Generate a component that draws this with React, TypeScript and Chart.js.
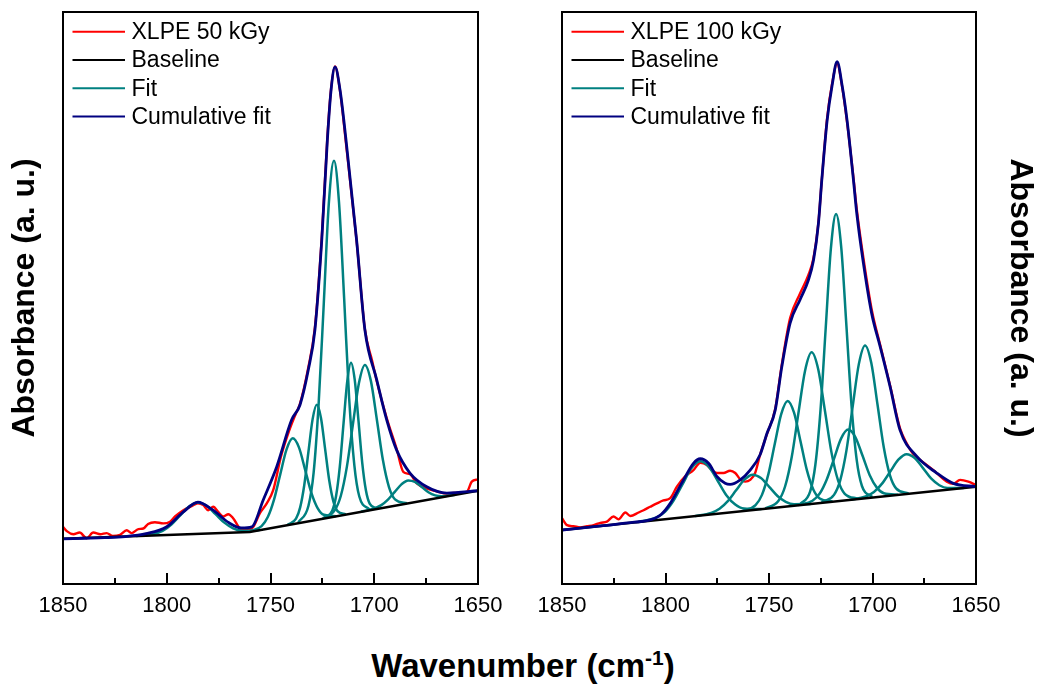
import React, { useEffect, useRef } from 'react';
import { Chart, registerables } from 'chart.js';
Chart.register(...registerables);

const FONT = "'Liberation Sans', Arial, Helvetica, sans-serif";
const X_MIN = 1650;
const X_MAX = 1850;
const X_MAJOR = [1850, 1800, 1750, 1700, 1650];
const X_MINOR = [1825, 1775, 1725, 1675];
const Y_TITLE = 'Absorbance (a. u.)';
const LEGEND_LEFT = ['XLPE 50 kGy', 'Baseline', 'Fit', 'Cumulative fit'];
const LEGEND_RIGHT = ['XLPE 100 kGy', 'Baseline', 'Fit', 'Cumulative fit'];

// ---------- Left panel: XLPE 50 kGy ----------
const L_DATA = [[1850,0.100],[1848,0.092],[1845,0.087],[1842,0.090],[1838.6,0.080],[1835.4,0.090],[1832,0.087],[1829,0.089],[1826,0.084],[1822.5,0.086],[1819.3,0.094],[1817,0.089],[1813.7,0.096],[1811.3,0.097],[1809,0.105],[1805.7,0.108],[1801.7,0.106],[1798.4,0.109],[1796,0.118],[1792,0.129],[1788,0.136],[1785,0.141],[1782.4,0.138],[1780,0.129],[1777.6,0.135],[1775.2,0.126],[1772.7,0.118],[1770.3,0.122],[1768,0.115],[1764.7,0.097],[1761.5,0.094],[1758.3,0.100],[1755.1,0.124],[1751.8,0.141],[1748.7,0.164],[1745,0.222],[1741,0.268],[1738,0.296],[1735.8,0.315],[1731.8,0.378],[1728.6,0.448],[1725.3,0.605],[1722.6,0.780],[1720.8,0.866],[1718.9,0.905],[1716.5,0.862],[1713.6,0.770],[1708.5,0.600],[1704.5,0.445],[1701,0.390],[1698.8,0.355],[1694,0.290],[1689.2,0.236],[1686,0.196],[1682.8,0.192],[1679.5,0.176],[1674.7,0.167],[1670,0.162],[1665,0.158],[1661.9,0.159],[1658,0.160],[1655.4,0.161],[1653,0.179],[1650,0.183]];
const L_BASE = [[1850,0.079],[1760,0.091],[1650,0.163]];
const L_CUM = [[1850,0.079],[1840,0.080],[1830,0.081],[1820,0.083],[1810,0.088],[1800,0.100],[1792,0.126],[1785,0.143],[1778,0.130],[1770,0.107],[1764,0.098],[1759,0.100],[1753.5,0.147],[1747,0.205],[1739.8,0.287],[1735.8,0.313],[1731.8,0.374],[1728.6,0.444],[1725.3,0.601],[1722.6,0.776],[1720.8,0.864],[1718.9,0.904],[1716.5,0.864],[1713.6,0.776],[1708.5,0.601],[1704.5,0.444],[1698.8,0.357],[1694,0.287],[1689.2,0.234],[1682.8,0.194],[1674.7,0.170],[1665,0.159],[1650,0.163]];
const L_FIT_1 = [[1814.75,0.0838],[1806.25,0.0873],[1802,0.0928],[1797.75,0.1039],[1793.5,0.1199],[1789.25,0.1356],[1785,0.1427],[1780.75,0.1367],[1776.5,0.1222],[1772.25,0.1073],[1768,0.0973],[1763.75,0.0929],[1755.25,0.0942]];
const L_FIT_2 = [[1760.3,0.0913],[1754.3,0.1013],[1751.3,0.1170],[1748.3,0.1475],[1745.3,0.1917],[1742.3,0.2349],[1739.3,0.2546],[1736.3,0.2388],[1733.3,0.1996],[1730.3,0.1593],[1727.3,0.1327],[1724.3,0.1210],[1718.3,0.1186]];
const L_FIT_3 = [[1741.7,0.1034],[1737.7,0.1144],[1735.7,0.1340],[1733.7,0.1736],[1731.7,0.2316],[1729.7,0.2882],[1727.7,0.3132],[1725.7,0.2908],[1723.7,0.2368],[1721.7,0.1814],[1719.7,0.1445],[1717.7,0.1275],[1713.7,0.1217]];
const L_FIT_4 = [[1736.6,0.1077],[1731.7,0.1369],[1729.2,0.1952],[1726.8,0.3150],[1724.3,0.4922],[1721.9,0.6650],[1719.4,0.7400],[1717.0,0.6682],[1714.5,0.4986],[1712.1,0.3247],[1709.6,0.2080],[1707.2,0.1530],[1702.3,0.1302]];
const L_FIT_5 = [[1723.8,0.1153],[1720.2,0.1287],[1718.4,0.1538],[1716.6,0.2052],[1714.8,0.2808],[1713.0,0.3546],[1711.2,0.3870],[1709.4,0.3569],[1707.6,0.2855],[1705.8,0.2123],[1704.0,0.1633],[1702.2,0.1405],[1698.6,0.1318]];
const L_FIT_6 = [[1724.8,0.1147],[1719.0,0.1291],[1716.1,0.1543],[1713.2,0.2048],[1710.3,0.2787],[1707.4,0.3509],[1704.5,0.3830],[1701.6,0.3547],[1698.7,0.2863],[1695.8,0.2162],[1692.9,0.1695],[1690.0,0.1481],[1684.2,0.1412]];
const L_FIT_7 = [[1706.4,0.1262],[1699.9,0.1322],[1696.6,0.1379],[1693.4,0.1476],[1690.1,0.1611],[1686.9,0.1742],[1683.6,0.1810],[1680.4,0.1784],[1677.1,0.1696],[1673.9,0.1604],[1670.6,0.1550],[1667.4,0.1535],[1660.9,0.1560]];
const L_FITS = [L_FIT_1, L_FIT_2, L_FIT_3, L_FIT_4, L_FIT_5, L_FIT_6, L_FIT_7];

// ---------- Right panel: XLPE 100 kGy ----------
const R_DATA = [[1850,0.115],[1847.6,0.103],[1844.4,0.101],[1841.2,0.099],[1837.9,0.101],[1834.7,0.103],[1831.5,0.107],[1828.3,0.109],[1825.1,0.118],[1822.7,0.113],[1819.4,0.125],[1817,0.119],[1813,0.125],[1810.6,0.129],[1807.4,0.135],[1804.1,0.141],[1801,0.146],[1797.7,0.150],[1794.5,0.170],[1790.5,0.188],[1786.5,0.199],[1783.2,0.212],[1780,0.208],[1777.6,0.199],[1775.2,0.194],[1772,0.194],[1768.8,0.198],[1766.3,0.194],[1763.9,0.183],[1761.5,0.179],[1759.1,0.182],[1756.7,0.194],[1754.3,0.226],[1751,0.262],[1747,0.306],[1743.8,0.384],[1739.8,0.465],[1735,0.508],[1731,0.540],[1728.5,0.570],[1726.1,0.633],[1724.5,0.706],[1721.9,0.815],[1719.5,0.875],[1717.1,0.910],[1714.7,0.870],[1712.3,0.808],[1709.2,0.710],[1707.6,0.655],[1704.4,0.570],[1700.4,0.480],[1696.3,0.418],[1691.5,0.347],[1686.7,0.272],[1683.5,0.246],[1680.5,0.228],[1677,0.217],[1670.6,0.199],[1664.1,0.179],[1661,0.175],[1657.7,0.182],[1653.7,0.179],[1650,0.173]];
const R_BASE = [[1850,0.0944],[1650,0.170]];
const R_CUM = [[1850,0.0944],[1830,0.102],[1815,0.108],[1807.4,0.112],[1802,0.122],[1797.7,0.141],[1791.3,0.182],[1786.5,0.211],[1783.2,0.219],[1779.2,0.211],[1775.2,0.188],[1771.2,0.176],[1768.8,0.174],[1763.9,0.182],[1759.1,0.199],[1754.3,0.226],[1751,0.263],[1747,0.304],[1743.8,0.380],[1739.8,0.456],[1735,0.497],[1731,0.531],[1728.5,0.566],[1726.1,0.631],[1724.5,0.706],[1721.9,0.811],[1719.5,0.872],[1717.1,0.913],[1714.7,0.872],[1712.3,0.811],[1709.2,0.706],[1707.6,0.648],[1704.4,0.561],[1700.4,0.473],[1696.3,0.415],[1691.5,0.345],[1686.7,0.269],[1678.6,0.223],[1669,0.194],[1661,0.176],[1650,0.170]];
const R_FIT_1 = [[1813.1,0.1085],[1804.6,0.1158],[1800.3,0.1260],[1796.1,0.1457],[1791.8,0.1741],[1787.6,0.2018],[1783.3,0.2146],[1779.1,0.2050],[1774.8,0.1805],[1770.6,0.1553],[1766.3,0.1388],[1762.1,0.1318],[1753.6,0.1310]];
const R_FIT_2 = [[1785.9,0.1187],[1777.9,0.1244],[1773.9,0.1316],[1769.9,0.1449],[1765.9,0.1638],[1761.9,0.1824],[1757.9,0.1912],[1753.9,0.1854],[1749.9,0.1698],[1745.9,0.1539],[1741.9,0.1437],[1737.9,0.1395],[1729.9,0.1399]];
const R_FIT_3 = [[1762.7,0.1278],[1756.5,0.1378],[1753.4,0.1558],[1750.3,0.1920],[1747.2,0.2452],[1744.1,0.2970],[1741.0,0.3200],[1737.9,0.2994],[1734.8,0.2498],[1731.7,0.1990],[1728.6,0.1652],[1725.5,0.1496],[1719.3,0.1442]];
const R_FIT_4 = [[1751.8,0.1321],[1745.4,0.1456],[1742.2,0.1709],[1739.0,0.2225],[1735.8,0.2985],[1732.6,0.3725],[1729.4,0.4050],[1726.2,0.3749],[1723.0,0.3033],[1719.8,0.2297],[1716.6,0.1806],[1713.4,0.1577],[1707.0,0.1491]];
const R_FIT_5 = [[1735.1,0.1389],[1730.1,0.1618],[1727.6,0.2085],[1725.1,0.3049],[1722.6,0.4476],[1720.1,0.5867],[1717.6,0.6470],[1715.1,0.5886],[1712.6,0.4513],[1710.1,0.3106],[1707.6,0.2160],[1705.1,0.1713],[1700.1,0.1522]];
const R_FIT_6 = [[1735.9,0.1378],[1729.0,0.1455],[1725.5,0.1581],[1722.1,0.1828],[1718.6,0.2189],[1715.2,0.2542],[1711.7,0.2700],[1708.3,0.2568],[1704.8,0.2241],[1701.4,0.1907],[1697.9,0.1685],[1694.5,0.1586],[1687.6,0.1561]];
const R_FIT_7 = [[1724.6,0.1424],[1718.6,0.1559],[1715.6,0.1813],[1712.6,0.2332],[1709.6,0.3097],[1706.6,0.3844],[1703.6,0.4170],[1700.6,0.3867],[1697.6,0.3142],[1694.6,0.2400],[1691.6,0.1904],[1688.6,0.1672],[1682.6,0.1583]];
const R_FIT_8 = [[1711.2,0.1471],[1703.3,0.1530],[1699.3,0.1608],[1695.4,0.1755],[1691.4,0.1967],[1687.5,0.2173],[1683.5,0.2270],[1679.6,0.2203],[1675.6,0.2026],[1671.7,0.1845],[1667.7,0.1727],[1663.8,0.1679],[1655.9,0.1680]];
const R_FITS = [R_FIT_1, R_FIT_2, R_FIT_3, R_FIT_4, R_FIT_5, R_FIT_6, R_FIT_7, R_FIT_8];

const RED = '#FF0000';
const BLACK = '#000000';
const TEAL = '#008080';
const NAVY = '#000080';

const toPts = (arr: number[][]) => arr.map(([x, y]) => ({ x, y }));

function makeFramePlugin(labels: string[]) {
  const colors = [RED, BLACK, TEAL, NAVY];
  return {
    id: 'frameLegend',
    afterDraw(chart: any) {
      const { ctx, chartArea: a, scales } = chart;
      const xs = scales.x;
      ctx.save();
      ctx.strokeStyle = '#000';
      ctx.lineWidth = 2;
      ctx.strokeRect(a.left, a.top, a.right - a.left, a.bottom - a.top);
      const tick = (v: number, len: number) => {
        const px = Math.round(xs.getPixelForValue(v));
        ctx.beginPath();
        ctx.moveTo(px, a.bottom);
        ctx.lineTo(px, a.bottom - len);
        ctx.stroke();
      };
      X_MAJOR.forEach((v) => tick(v, 11));
      X_MINOR.forEach((v) => tick(v, 6));
      ctx.font = `23px ${FONT}`;
      ctx.textBaseline = 'middle';
      ctx.textAlign = 'left';
      labels.forEach((label, i) => {
        const y = a.top + 19.7 + i * 28.3;
        ctx.strokeStyle = colors[i];
        ctx.lineWidth = 2;
        ctx.beginPath();
        ctx.moveTo(a.left + 9.5, y);
        ctx.lineTo(a.left + 62, y);
        ctx.stroke();
        ctx.fillStyle = '#000';
        ctx.fillText(label, a.left + 68.5, y + 1);
      });
      ctx.restore();
    },
  };
}

type PanelProps = {
  left: number;
  width: number;
  side: 'left' | 'right';
  data: number[][];
  base: number[][];
  cum: number[][];
  fits: number[][][];
  legend: string[];
};

function Panel({ left, width, side, data, base, cum, fits, legend }: PanelProps) {
  const ref = useRef<HTMLCanvasElement>(null);
  useEffect(() => {
    if (!ref.current) return;
    const common = { pointRadius: 0, fill: false, cubicInterpolationMode: 'monotone' as const };
    const datasets: any[] = [
      { ...common, label: 'Cumulative fit', data: toPts(cum), borderColor: NAVY, borderWidth: 2.8 },
      { ...common, label: 'Baseline', data: toPts(base), borderColor: BLACK, borderWidth: 2.5, cubicInterpolationMode: 'default', tension: 0 },
      ...fits.map((f) => ({ ...common, label: 'Fit', data: toPts(f), borderColor: TEAL, borderWidth: 2.5 })),
      { ...common, label: legend[0], data: toPts(data), borderColor: RED, borderWidth: 2.4 },
    ];
    const chart = new Chart(ref.current, {
      type: 'line',
      data: { datasets },
      options: {
        animation: false,
        responsive: false,
        devicePixelRatio: 1,
        layout: {
          padding: side === 'left'
            ? { left: 0, top: 12, right: 42, bottom: 0 }
            : { left: 42, top: 12, right: 0, bottom: 0 },
        },
        plugins: { legend: { display: false }, tooltip: { enabled: false } },
        scales: {
          x: {
            type: 'linear',
            min: X_MIN,
            max: X_MAX,
            reverse: true,
            grid: { display: false, drawTicks: false },
            border: { display: false },
            ticks: {
              stepSize: 50,
              padding: 9,
              maxRotation: 0,
              color: '#000',
              font: { family: FONT, size: 22 },
              callback: (v: any) => String(v),
            },
            afterFit: (s: any) => { s.height = 56; },
          },
          y: {
            type: 'linear',
            position: side,
            min: 0,
            max: 1,
            grid: { display: false, drawTicks: false },
            border: { display: false },
            ticks: { display: false },
            title: {
              display: true,
              text: Y_TITLE,
              color: '#000',
              font: { family: FONT, size: 32, weight: 'bold' },
              padding: { top: side === 'left' ? 6 : 2, bottom: 0 },
            },
            afterFit: (s: any) => { s.width = side === 'left' ? 63 : 65; },
          },
        },
      } as any,
      plugins: [makeFramePlugin(legend)],
    });
    return () => chart.destroy();
  }, []);
  return (
    <canvas
      ref={ref}
      width={width}
      height={640}
      style={{ position: 'absolute', left, top: 0, width, height: 640 }}
    />
  );
}

export default function App() {
  return (
    <div style={{ position: 'absolute', left: 0, top: 0, width: 1041, height: 684, background: '#fff', overflow: 'hidden' }}>
      <Panel left={0} width={520} side="left" data={L_DATA} base={L_BASE} cum={L_CUM} fits={L_FITS} legend={LEGEND_LEFT} />
      <Panel left={520} width={521} side="right" data={R_DATA} base={R_BASE} cum={R_CUM} fits={R_FITS} legend={LEGEND_RIGHT} />
      <div
        style={{
          position: 'absolute',
          left: 0,
          top: 649,
          width: 1046,
          textAlign: 'center',
          fontFamily: FONT,
          fontWeight: 'bold',
          fontSize: 33,
          lineHeight: '33px',
          color: '#000',
          whiteSpace: 'nowrap',
        }}
      >
        Wavenumber (cm
        <span style={{ fontSize: 21, position: 'relative', top: -12 }}>-1</span>)
      </div>
    </div>
  );
}
